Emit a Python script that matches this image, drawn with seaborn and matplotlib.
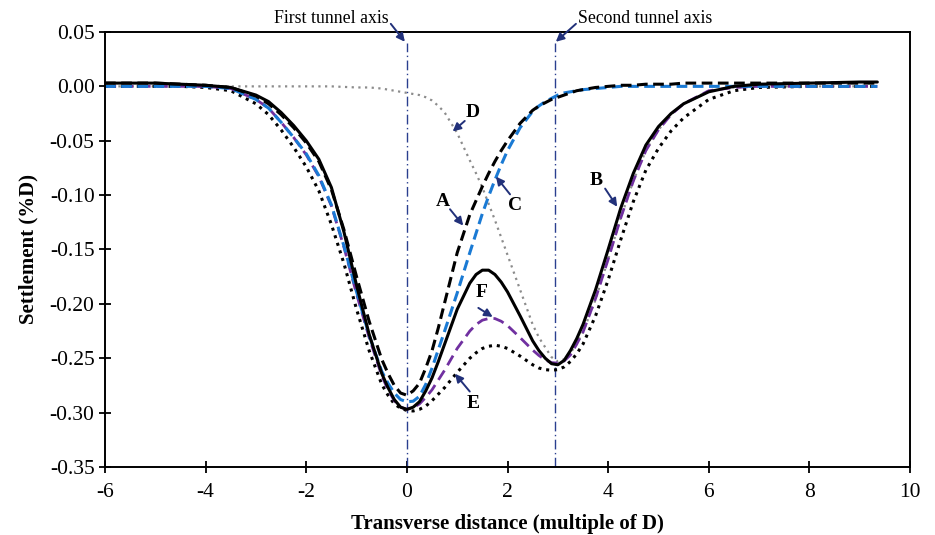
import matplotlib
matplotlib.use("Agg")
import matplotlib.pyplot as plt
import seaborn as sns
import pandas as pd

# transverse positions (multiple of D)
x = [-6, -5.5, -5, -4.5, -4, -3.5, -3, -2.75, -2.5, -2.25,
     -2, -1.75, -1.5, -1.25, -1, -0.75, -0.5, -0.375, -0.25, -0.125,
     0, 0.125, 0.25, 0.375, 0.5, 0.625, 0.75, 1, 1.25, 1.375,
     1.5, 1.625, 1.75, 1.875, 2, 2.25, 2.5, 2.625, 2.75, 2.875,
     3, 3.125, 3.25, 3.375, 3.5, 3.75, 4, 4.25, 4.5, 4.75,
     5, 5.25, 5.5, 6, 6.5, 7, 8, 9, 9.35]

# settlement (%D) for each case
curve_a = [0.003, 0.003, 0.003, 0.002, 0.001, -0.001, -0.009, -0.016, -0.026, -0.038,
           -0.052, -0.069, -0.095, -0.132, -0.175, -0.216, -0.251, -0.264, -0.275, -0.282,
           -0.284, -0.280, -0.273, -0.259, -0.243, -0.222, -0.199, -0.153, -0.118, -0.105,
           -0.092, -0.080, -0.069, -0.059, -0.050, -0.034, -0.022, -0.018, -0.015, -0.012,
           -0.010, -0.008, -0.006, -0.004, -0.003, -0.001, 0.000, 0.001, 0.001, 0.002,
           0.002, 0.002, 0.003, 0.003, 0.003, 0.003, 0.003, 0.003, 0.003]
curve_b = [0.003, 0.003, 0.003, 0.002, 0.001, -0.001, -0.008, -0.014, -0.024, -0.036,
           -0.050, -0.067, -0.093, -0.134, -0.183, -0.228, -0.264, -0.277, -0.288, -0.295,
           -0.297, -0.295, -0.290, -0.280, -0.268, -0.253, -0.237, -0.205, -0.181, -0.173,
           -0.169, -0.169, -0.173, -0.180, -0.189, -0.211, -0.234, -0.243, -0.250, -0.255,
           -0.256, -0.252, -0.243, -0.232, -0.219, -0.187, -0.150, -0.112, -0.080, -0.054,
           -0.037, -0.025, -0.016, -0.005, 0.000, 0.002, 0.003, 0.004, 0.004]
curve_c = [0.000, 0.000, 0.000, 0.000, 0.000, -0.002, -0.012, -0.020, -0.033, -0.047,
           -0.062, -0.082, -0.109, -0.147, -0.189, -0.229, -0.262, -0.273, -0.282, -0.288,
           -0.290, -0.2895, -0.285, -0.274, -0.259, -0.242, -0.225, -0.190, -0.153, -0.135,
           -0.117, -0.101, -0.086, -0.072, -0.059, -0.038, -0.023, -0.018, -0.014, -0.011,
           -0.008, -0.006, -0.005, -0.004, -0.003, -0.002, -0.001, 0.000, 0.000, 0.000,
           0.000, 0.000, 0.000, 0.000, 0.000, 0.000, 0.000, 0.000, 0.000]
curve_d = [0.000, 0.000, 0.000, 0.000, 0.000, 0.000, 0.000, 0.000, 0.000, 0.000,
           0.000, 0.000, 0.000, -0.0005, -0.001, -0.001, -0.002, -0.003, -0.004, -0.005,
           -0.006, -0.007, -0.008, -0.010, -0.013, -0.018, -0.024, -0.043, -0.068, -0.080,
           -0.093, -0.108, -0.123, -0.139, -0.155, -0.187, -0.219, -0.231, -0.240, -0.249,
           -0.253, -0.251, -0.245, -0.237, -0.226, -0.196, -0.159, -0.121, -0.087, -0.059,
           -0.040, -0.026, -0.016, -0.004, -0.001, 0.000, 0.000, 0.000, 0.000]
curve_e = [0.000, 0.000, 0.000, 0.000, -0.001, -0.004, -0.016, -0.026, -0.040, -0.056,
           -0.074, -0.096, -0.127, -0.163, -0.205, -0.243, -0.274, -0.284, -0.292, -0.296,
           -0.298, -0.2985, -0.297, -0.294, -0.289, -0.283, -0.277, -0.263, -0.250, -0.245,
           -0.241, -0.239, -0.238, -0.239, -0.241, -0.248, -0.256, -0.259, -0.2605, -0.261,
           -0.2605, -0.258, -0.253, -0.246, -0.237, -0.211, -0.178, -0.141, -0.106, -0.077,
           -0.057, -0.041, -0.029, -0.012, -0.004, -0.001, 0.000, 0.000, 0.000]
curve_f = [0.000, 0.000, 0.000, 0.000, 0.000, -0.002, -0.012, -0.020, -0.033, -0.047,
           -0.063, -0.083, -0.110, -0.148, -0.191, -0.231, -0.266, -0.279, -0.289, -0.295,
           -0.297, -0.2955, -0.292, -0.286, -0.279, -0.270, -0.261, -0.241, -0.225, -0.219,
           -0.215, -0.2135, -0.2135, -0.216, -0.220, -0.231, -0.2425, -0.2475, -0.2515, -0.254,
           -0.2545, -0.2525, -0.247, -0.237, -0.226, -0.195, -0.159, -0.121, -0.087, -0.059,
           -0.040, -0.026, -0.016, -0.004, -0.001, 0.000, 0.000, 0.000, 0.000]

tunnel_axes = [0.0, 2.95]
x_ticks = [-6, -4, -2, 0, 2, 4, 6, 8, 10]
y_ticks = [0.05, 0.00, -0.05, -0.10, -0.15, -0.20, -0.25, -0.30, -0.35]

sns.set_theme(style="white")
plt.rcParams["font.family"] = ["Liberation Serif", "DejaVu Serif"]
plt.rcParams["axes.unicode_minus"] = False
plt.rcParams["text.color"] = "black"
plt.rcParams["axes.labelcolor"] = "black"

NAVY = "#22317a"

fig, ax = plt.subplots(figsize=(9.35, 5.35), dpi=100)
fig.subplots_adjust(left=0.1123, right=0.9733, top=0.9402, bottom=0.1271)

styles = [
    # name, values, colour, linewidth, dash pattern
    ("D", curve_d, "#8c8c8c", 1.6, (0, (1.0, 2.0))),
    ("E", curve_e, "black", 2.2, (0, (1.0, 1.6))),
    ("F", curve_f, "#7030a0", 2.0, (0, (4.0, 2.2))),
    ("C", curve_c, "#1a7ad4", 2.2, (0, (3.5, 1.8))),
    ("A", curve_a, "black", 2.2, (0, (3.5, 1.8))),
    ("B", curve_b, "black", 2.2, "-"),
]
for name, vals, col, lw, ls in styles:
    df = pd.DataFrame({"x": x, "s": vals})
    sns.lineplot(data=df, x="x", y="s", ax=ax, color=col, lw=lw,
                 linestyle=ls, legend=False, sort=True, estimator=None)

for xv in tunnel_axes:
    ax.vlines(xv, -0.35, 0.040, colors="#2a3f8f", linestyles=(0, (7, 2.5, 1, 2.5)),
              lw=1.0, zorder=1)

ax.set_xlim(-6, 10)
ax.set_ylim(-0.35, 0.05)
ax.set_xticks(x_ticks)
ax.set_yticks(y_ticks)
ax.set_xticklabels([str(t) for t in x_ticks])
ax.set_yticklabels([f"{t:.2f}" for t in y_ticks])
ax.tick_params(axis="x", pad=7)
ax.tick_params(axis="y", pad=3)
ax.tick_params(axis="both", which="major", direction="inout", length=9, width=1.3,
               labelsize=15.5, colors="black",
               bottom=True, left=True, top=False, right=False)
for sp in ax.spines.values():
    sp.set_color("black")
    sp.set_linewidth(1.4)

ax.set_xlabel("Transverse distance (multiple of D)", fontsize=15, fontweight="bold",
              labelpad=9, color="black")
ax.set_ylabel("Settlement (%D)", fontsize=15, fontweight="bold", labelpad=8, color="black")

arrow_kw = dict(arrowstyle="-|>", color=NAVY, lw=1.4, mutation_scale=12,
                shrinkA=0, shrinkB=0)

# tunnel axis callouts above the frame
ax.text(-0.37, 0.0628, "First tunnel axis", ha="right", va="center", fontsize=12.8,
        color="black", clip_on=False)
ax.annotate("", xy=(-0.04, 0.041), xytext=(-0.32, 0.0575),
            annotation_clip=False, arrowprops=arrow_kw)
ax.text(3.40, 0.0628, "Second tunnel axis", ha="left", va="center", fontsize=12.8,
        color="black", clip_on=False)
ax.annotate("", xy=(2.96, 0.041), xytext=(3.36, 0.0575),
            annotation_clip=False, arrowprops=arrow_kw)

# case labels
labels = [
    ("D", (1.31, -0.0237), (1.15, -0.0318), (0.91, -0.0415)),
    ("A", (0.72, -0.1055), (0.857, -0.113), (1.12, -0.128)),
    ("C", (2.15, -0.1095), (2.05, -0.0993), (1.77, -0.083)),
    ("B", (3.77, -0.087), (3.94, -0.094), (4.18, -0.1107)),
    ("F", (1.49, -0.190), (1.42, -0.2037), (1.705, -0.212)),
    ("E", (1.32, -0.2913), (1.25, -0.2806), (0.956, -0.2643)),
]
for lab, tpos, tail, tip in labels:
    ax.text(tpos[0], tpos[1], lab, ha="center", va="center", fontsize=14,
            fontweight="bold", color="black")
    ax.annotate("", xy=tip, xytext=tail, arrowprops=arrow_kw)

fig.savefig("out.png", dpi=100)
